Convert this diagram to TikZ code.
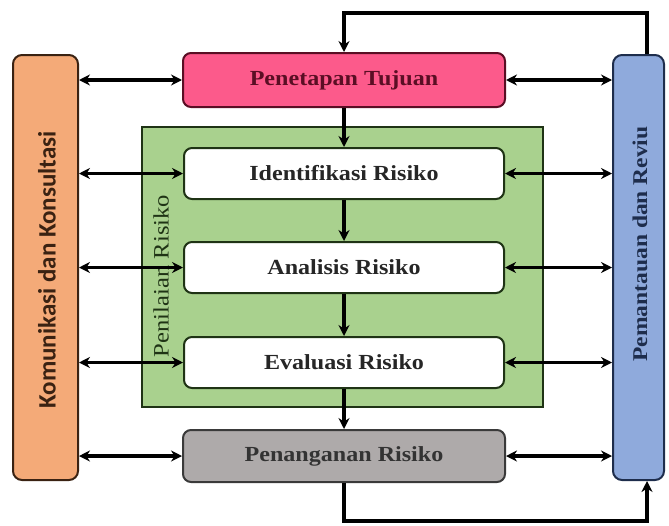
\documentclass[tikz,border=0pt]{standalone}
\usepackage{fontspec}
\setmainfont{Liberation Serif}[FakeStretch=1.12]
\newfontfamily\calfont{Carlito}
\usetikzlibrary{arrows.meta}
\definecolor{orangef}{HTML}{F4AA78}
\definecolor{oranged}{HTML}{3A2212}
\definecolor{bluef}{HTML}{8FAADC}
\definecolor{blued}{HTML}{1E2D4C}
\definecolor{pinkf}{HTML}{FC5A8B}
\definecolor{pinkd}{HTML}{5A0E24}
\definecolor{greenf}{HTML}{A9D18E}
\definecolor{greend}{HTML}{1F3315}
\definecolor{grayf}{HTML}{AEAAAA}
\definecolor{grayd}{HTML}{3A3A3A}
\begin{document}
\begin{tikzpicture}[x=1pt,y=-1pt,
  stage/.style={draw, line width=2pt, rounded corners=8pt, minimum width=320pt, minimum height=51pt,
    font=\fontsize{21.5}{23}\selectfont\bfseries, text=black!85, inner sep=0pt},
  side/.style={draw, line width=2pt, rounded corners=9pt, minimum height=425pt, inner sep=0pt},
  flow/.style={line width=3.2pt, -{Stealth[length=11pt,width=11pt]}},
  both/.style={line width=3.2pt, {Stealth[length=11pt,width=11pt]}-{Stealth[length=11pt,width=11pt]}}]
\useasboundingbox (0,0) rectangle (669,525);
% green assessment area
\node[draw=greend, fill=greenf, line width=1.8pt, minimum width=401pt, minimum height=280pt, inner sep=0pt] (assess) at (342.5,267) {};
\node[rotate=90, font=\fontsize{22}{24}\selectfont, text=greend] (assesslbl) at (161,276) {Penilaian Risiko};
% side boxes
\node[side, draw=oranged, fill=orangef, minimum width=65pt] (kom) at (45.5,267.5) {};
\node[rotate=90, font=\calfont\fontsize{25}{27}\selectfont\bfseries, text=oranged] (komlbl) at (47,270) {Komunikasi dan Konsultasi};
\node[side, draw=blued, fill=bluef, minimum width=51pt] (pem) at (638.5,267.5) {};
\node[rotate=90, font=\fontsize{21}{23}\selectfont\bfseries, text=blued] (pemlbl) at (640,244) {Pemantauan dan Reviu};
% stages
\node[stage, draw=pinkd, fill=pinkf, minimum width=322pt, minimum height=54pt, text=pinkd] (tuj) at (344,80) {Penetapan Tujuan};
\node[stage, draw=greend, fill=white] (ide) at (344,173.5) {Identifikasi Risiko};
\node[stage, draw=greend, fill=white] (ana) at (344,267.5) {Analisis Risiko};
\node[stage, draw=greend, fill=white] (eva) at (344,362.5) {Evaluasi Risiko};
\node[stage, draw=grayd, fill=grayf, minimum width=322pt, minimum height=52pt, text=black!80] (pen) at (344,456) {Penanganan Risiko};
% vertical flow
\draw[flow] (tuj) -- (ide);
\draw[flow] (ide) -- (ana);
\draw[flow] (ana) -- (eva);
\draw[flow] (eva) -- (pen);
% loops
\coordinate (topR) at (647,13);
\coordinate (topL) at (344,13);
\coordinate (botL) at (344,521);
\coordinate (botR) at (647,521);
\draw[flow] (topR |- pem.north) -- (topR) -- (topL) -- (tuj.north);
\draw[flow] (pen.south) -- (botL) -- (botR) -- (botR |- pem.south);
% horizontal links
\foreach \n in {tuj,ide,ana,eva,pen}{
  \draw[both] (kom.east |- \n) -- (\n.west);
  \draw[both] (\n.east) -- (pem.west |- \n);
}
\end{tikzpicture}
\end{document}
